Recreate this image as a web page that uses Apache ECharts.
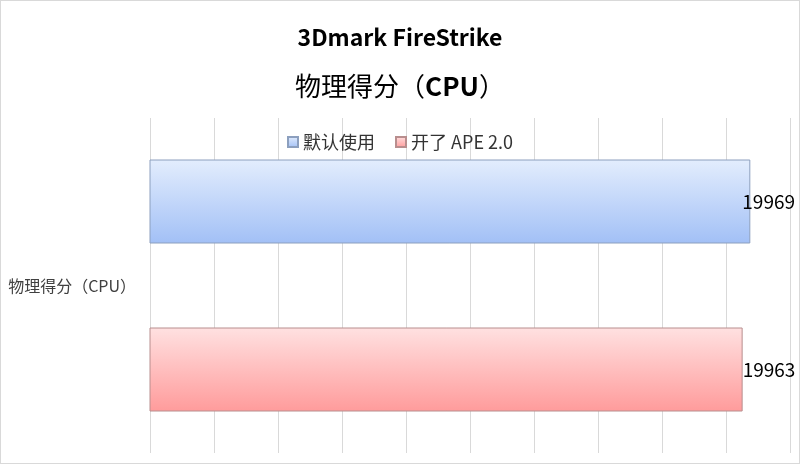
<!DOCTYPE html>
<html>
<head>
<meta charset="utf-8">
<script src="https://cdn.jsdelivr.net/npm/echarts@6/dist/echarts.min.js"></script>
<style>
html,body{margin:0;padding:0;background:#fff;}
#wrap{position:relative;width:800px;height:464px;}
#c{width:800px;height:464px;}
#frame{position:absolute;left:0;top:0;width:800px;height:464px;box-sizing:border-box;border:1px solid #d9d9d9;pointer-events:none;}
</style>
</head>
<body>
<div id="wrap"><div id="c"></div><div id="frame"></div></div>
<script>
const categories = ['物理得分（CPU）'];
const seriesNames = ['默认使用', '开了 APE 2.0'];
const defaultValues = [19969];
const apeValues = [19963];
const axisMin = 19500, axisMax = 20000, axisStep = 50;

const FONT = '"Noto Sans CJK SC", "Noto Sans", sans-serif';
const chart = echarts.init(document.getElementById('c'), null, {renderer: 'canvas'});
function grad(top, bottom) {
  return new echarts.graphic.LinearGradient(0, 0, 0, 1, [
    {offset: 0, color: top}, {offset: 1, color: bottom}
  ]);
}
chart.setOption({
  animation: false,
  textStyle: {fontFamily: FONT},
  title: [
    {text: '3Dmark FireStrike', left: 'center', top: 21,
     textStyle: {fontFamily: FONT, fontSize: 23, fontWeight: 'bold', color: '#000'}},
    {text: '{n|物理得分（}{b|CPU}{n|）}', left: 'center', top: 68,
     textStyle: {fontFamily: FONT, fontWeight: 'normal', color: '#000',
       rich: {n: {fontFamily: FONT, fontSize: 26, fontWeight: 'normal', color: '#000'},
              b: {fontFamily: FONT, fontSize: 26, fontWeight: 'bold', color: '#000'}}}}
  ],
  legend: {
    top: 128, left: 'center', icon: 'rect', itemWidth: 10, itemHeight: 10, itemGap: 20,
    textStyle: {fontFamily: FONT, fontSize: 18, color: '#333'},
    data: seriesNames
  },
  grid: {left: 150, right: 10, top: 118, bottom: 11, containLabel: false, outerBoundsMode: 'none'},
  xAxis: {
    type: 'value', min: axisMin, max: axisMax, interval: axisStep,
    axisLabel: {show: false}, axisLine: {show: false}, axisTick: {show: false},
    splitLine: {show: true, lineStyle: {color: '#d9d9d9', width: 1}}
  },
  yAxis: {
    type: 'category', data: categories,
    axisLine: {show: false}, axisTick: {show: false},
    axisLabel: {fontFamily: FONT, fontSize: 16, color: '#404040', margin: 14}
  },
  series: [
    {name: seriesNames[0], type: 'bar', data: defaultValues, barWidth: 84, barGap: '100%',
     itemStyle: {color: grad('#e3edfd', '#a2c0f6'), borderColor: '#8c9fbe', borderWidth: 1},
     label: {show: true, position: 'right', distance: -8, fontFamily: FONT, fontSize: 19, color: '#000'}},
    {name: seriesNames[1], type: 'bar', data: apeValues, barWidth: 84,
     itemStyle: {color: grad('#ffe1e1', '#ff9b9b'), borderColor: '#b88e8e', borderWidth: 1},
     label: {show: true, position: 'right', distance: 0, fontFamily: FONT, fontSize: 19, color: '#000'}}
  ]
});
</script>
</body>
</html>
